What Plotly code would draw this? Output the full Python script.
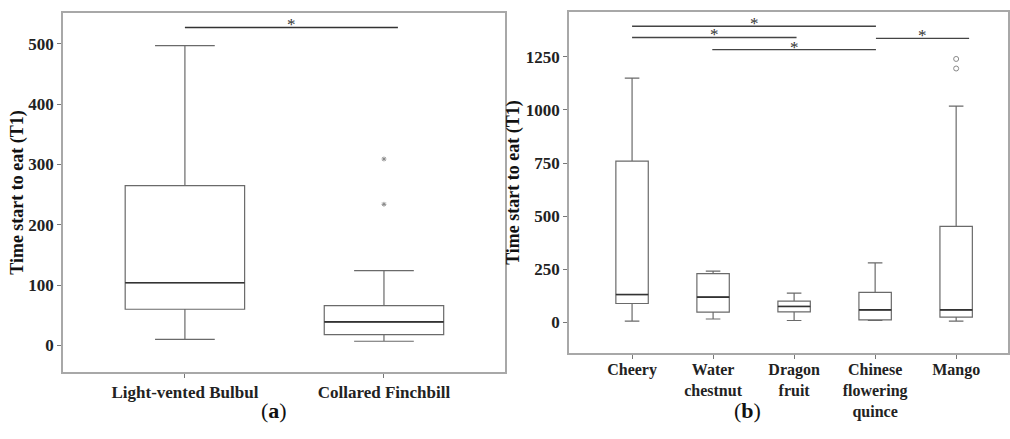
import plotly.graph_objects as go

# ---------------- data ----------------
# Panel (a)
birds = ["Light-vented Bulbul", "Collared Finchbill"]
a_low = [10, 7]
a_q1 = [60, 18]
a_med = [104, 39]
a_q3 = [265, 66]
a_high = [497, 124]
a_out_x = [1, 1]
a_out_y = [309, 234]

# Panel (b)
fruits = ["Cheery", "Water<br>chestnut", "Dragon<br>fruit", "Chinese<br>flowering<br>quince", "Mango"]
b_low = [6, 16, 9, 9, 6]
b_q1 = [89, 48, 50, 12, 25]
b_med = [131, 119, 75, 59, 59]
b_q3 = [759, 230, 100, 141, 452]
b_high = [1150, 241, 138, 280, 1018]
b_out_x = [4, 4]
b_out_y = [1240, 1195]

# significance brackets: (x0, x1, y)
a_sig = [(0, 1.07, 527)]
b_sig = [(0, 3.01, 1394), (0, 2.03, 1341), (0.99, 3.01, 1284), (3.01, 4.16, 1337)]

y_ticks_a = [0, 100, 200, 300, 400, 500]
y_ticks_b = [0, 250, 500, 750, 1000, 1250]

FONT = "Liberation Serif"
FRAME = "#a8a8a8"
BOXLINE = "#6a6a6a"
H = 439

fig = go.Figure()

wa, wb = 0.6, 0.4

fig.add_trace(go.Box(
    x=list(range(len(birds))), q1=a_q1, median=a_med, q3=a_q3,
    lowerfence=a_low, upperfence=a_high, width=wa, whiskerwidth=0.5,
    fillcolor="white", line=dict(color=BOXLINE, width=1.2),
    boxpoints=False, xaxis="x", yaxis="y", showlegend=False, hoverinfo="skip"))
fig.add_trace(go.Scatter(
    x=a_out_x, y=a_out_y, mode="markers", xaxis="x", yaxis="y",
    marker=dict(symbol="asterisk", size=4, line=dict(color="#888", width=1)),
    showlegend=False, hoverinfo="skip"))

fig.add_trace(go.Box(
    x=list(range(len(fruits))), q1=b_q1, median=b_med, q3=b_q3,
    lowerfence=b_low, upperfence=b_high, width=wb, whiskerwidth=0.45,
    fillcolor="white", line=dict(color=BOXLINE, width=1.2),
    boxpoints=False, xaxis="x2", yaxis="y2", showlegend=False, hoverinfo="skip"))
fig.add_trace(go.Scatter(
    x=b_out_x, y=b_out_y, mode="markers", xaxis="x2", yaxis="y2",
    marker=dict(symbol="circle-open", size=5, color="#888", line=dict(width=1)),
    showlegend=False, hoverinfo="skip"))

shapes = []
annotations = []
# darker median lines
for i, m in enumerate(a_med):
    shapes.append(dict(type="line", xref="x", yref="y", x0=i - wa / 2, x1=i + wa / 2,
                       y0=m, y1=m, line=dict(color="#333", width=1.6)))
for i, m in enumerate(b_med):
    shapes.append(dict(type="line", xref="x2", yref="y2", x0=i - wb / 2, x1=i + wb / 2,
                       y0=m, y1=m, line=dict(color="#333", width=1.6)))

starfont = dict(family=FONT, size=17, color="#333")
for x0, x1, y in a_sig:
    shapes.append(dict(type="line", xref="x", yref="y", x0=x0, x1=x1, y0=y, y1=y,
                       line=dict(color="#333", width=1.3)))
    annotations.append(dict(xref="x", yref="y", x=(x0 + x1) / 2, y=y, text="*",
                            showarrow=False, yanchor="bottom", yshift=-9, font=starfont))
for x0, x1, y in b_sig:
    shapes.append(dict(type="line", xref="x2", yref="y2", x0=x0, x1=x1, y0=y, y1=y,
                       line=dict(color="#444", width=1.3)))
    annotations.append(dict(xref="x2", yref="y2", x=(x0 + x1) / 2, y=y, text="*",
                            showarrow=False, yanchor="bottom", yshift=-9, font=starfont))

annotations.append(dict(xref="paper", yref="paper", x=260 / 1010, y=1 - 425 / H,
                        text="(<b>a</b>)", showarrow=False,
                        font=dict(family=FONT, size=22, color="#111")))
annotations.append(dict(xref="paper", yref="paper", x=765 / 1010, y=1 - 425 / H,
                        text="(<b>b</b>)", showarrow=False,
                        font=dict(family=FONT, size=22, color="#111")))

tickfont = dict(family=FONT, size=17, color="#222", weight="bold")
titlefont = dict(family=FONT, size=18, color="#111", weight="bold")

common = dict(showline=True, mirror=True, linecolor=FRAME, linewidth=1.5,
              ticks="outside", ticklen=4, tickcolor="#777", showgrid=False,
              zeroline=False, tickfont=tickfont)

fig.update_layout(
    width=1010, height=H,
    margin=dict(l=0, r=0, t=0, b=0),
    paper_bgcolor="white", plot_bgcolor="white",
    shapes=shapes, annotations=annotations,
    xaxis=dict(domain=[63 / 1010, 506 / 1010], range=[-0.613, 1.608],
               tickvals=list(range(len(birds))), ticktext=birds, anchor="y", **common),
    yaxis=dict(domain=[1 - 372 / H, 1 - 13 / H], range=[-44, 551],
               tickvals=y_ticks_a, anchor="x",
               title=dict(text="Time start to eat (T1)", font=titlefont, standoff=0),
               **common),
    xaxis2=dict(domain=[570 / 1010, 1.0], range=[-0.78, 4.64],
                tickvals=list(range(len(fruits))), ticktext=fruits, anchor="y2",
                ticklabelstandoff=-3,
                **{**common, "tickfont": dict(family=FONT, size=16, color="#222", weight="bold")}),
    yaxis2=dict(domain=[1 - 353 / H, 1 - 12 / H], range=[-144, 1461],
                tickvals=y_ticks_b, anchor="x2",
                title=dict(text="Time start to eat (T1)", font=titlefont, standoff=1),
                **common),
)

fig.write_html("out.html", config={"displayModeBar": False},
               post_script="document.body.style.margin='0';")
